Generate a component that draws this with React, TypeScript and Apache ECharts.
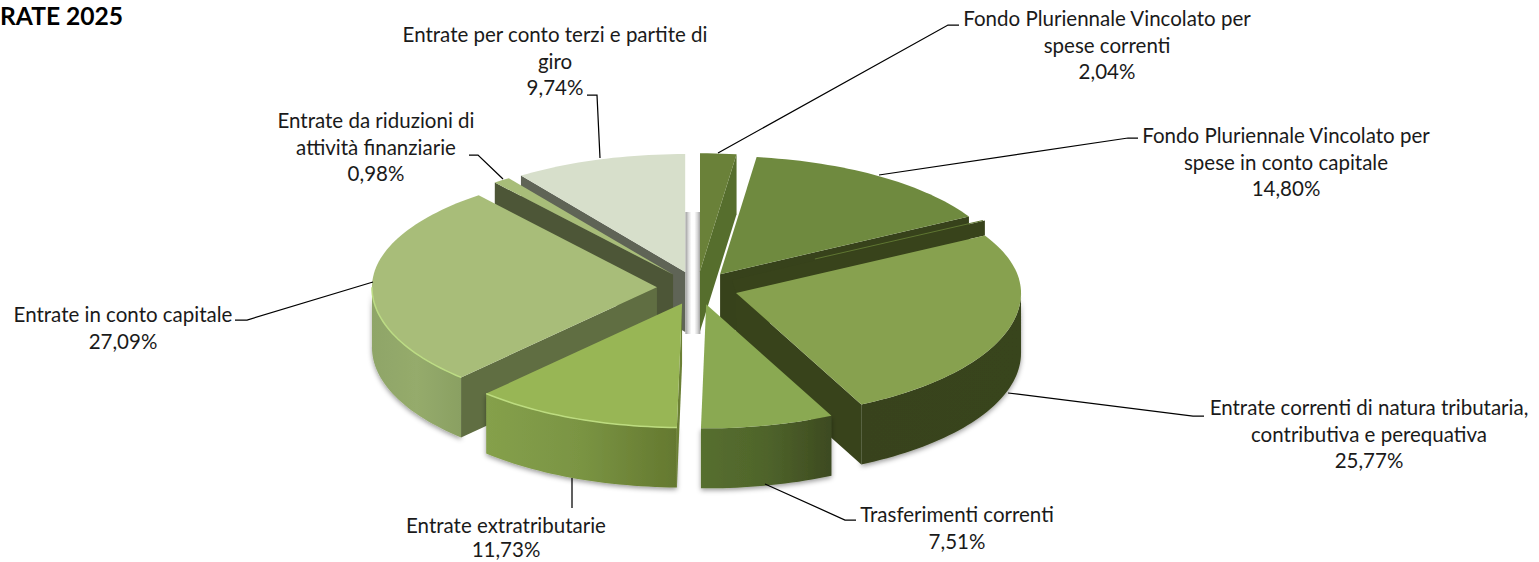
import React, { useEffect, useRef } from "react";
import * as echarts from "echarts";

const TITLE = "RATE 2025";
const CATEGORIES = [
  "Fondo Pluriennale Vincolato per\nspese correnti",
  "Fondo Pluriennale Vincolato per\nspese in conto capitale",
  "Entrate correnti di natura tributaria,\ncontributiva e perequativa",
  "Trasferimenti correnti",
  "Entrate extratributarie",
  "Entrate in conto capitale",
  "Entrate da riduzioni di\nattività finanziarie",
  "Entrate per conto terzi e partite di\ngiro",
];
const VALUES = [2.04, 14.8, 25.77, 7.51, 11.73, 27.09, 0.98, 9.74];

// Painter's order, back to front
const DRAW_ORDER = [7, 0, 1, 6, 5, 2, 4, 3];

// Projection of the pie: the front half is a little larger than the back half
const GEO = { cx: 697.4, cy: 288, rx: 285, ry: 118, ryFront: 124, explode: 0.142, depth: 60 };
const TOTAL = VALUES.reduce((a, b) => a + b, 0);
const RAD = Math.PI / 180;

const grad = (stops: string[]) =>
  new echarts.graphic.LinearGradient(
    0, 0, 1, 0,
    stops.map((color, i) => ({ offset: i / (stops.length - 1), color }))
  );

const STYLES: any[] = [
  { top: "#6a8139", face: "#566e2d" },
  { top: "#6f8a3f", face: "#37421b" },
  { top: "#87a14f", face: "#38431b", rim: ["#39441b", "#38431b"], lip: 15 },
  { top: "#8aa952", rim: ["#566f2f", "#4f642b", "#3d4a20"] },
  { top: "#98b655", face: "#6b8035", rim: ["#85a04b", "#7a9443", "#64782f"], edge: "#bddc80" },
  { top: "#a8bd79", face: "#606e42", rim: ["#8fa568", "#95ab6c", "#8aa062"], edge: "#bcdc84" },
  { top: "#a8bd79", face: "#4d5637" },
  { top: "#d7dfcb", face: "#5f6456" },
];

const LINE_GAP = 26.6;
const LABELS: any[] = [
  { x: 1107, y: 18, line: [[718, 153], [948, 25], [959, 25]] },
  { x: 1286, y: 135, line: [[879, 175], [1128, 138], [1138, 138]] },
  { x: 1369, y: 407, line: [[1008, 393], [1193, 416], [1204, 416]] },
  { x: 957, y: 514, line: [[765, 484], [845, 520], [856, 520]] },
  { x: 506, y: 525, gap: 24, line: [[572, 478], [572, 508]] },
  { x: 123, y: 314, line: [[373, 282], [247, 320], [235, 320]] },
  { x: 376, y: 120, line: [[503, 179], [478, 155], [469, 155]] },
  { x: 555, y: 34, line: [[600, 158], [597, 95], [587, 95]] },
];

const FONT = "Lato, Carlito, Calibri, sans-serif";

function sliceAngles(i: number) {
  let acc = 0;
  for (let k = 0; k < i; k++) acc += VALUES[k];
  return [(acc / TOTAL) * 360, ((acc + VALUES[i]) / TOTAL) * 360];
}

function renderSlice(params: any, api: any) {
  const i = DRAW_ORDER[params.dataIndex];
  const [start, end] = sliceAngles(i);
  const mid = ((start + end) / 2) * RAD;
  const { cx, cy, rx, ry, ryFront, explode, depth } = GEO;
  const ax = cx + rx * explode * Math.sin(mid);
  const ay = cy - ry * explode * Math.cos(mid);
  const rim = (deg: number, drop = 0): number[] => {
    const c = Math.cos(deg * RAD);
    return [ax + rx * Math.sin(deg * RAD), ay - (c >= 0 ? ry : ryFront) * c + drop];
  };
  const arc = (a: number, b: number, drop = 0) => {
    const n = Math.max(2, Math.ceil(Math.abs(b - a) / 1.5));
    const pts: number[][] = [];
    for (let k = 0; k <= n; k++) pts.push(rim(a + ((b - a) * k) / n, drop));
    return pts;
  };
  const s = STYLES[i];
  const children: any[] = [];
  const poly = (points: number[][], fill: any, extra: any = {}) =>
    children.push({ type: "polygon", shape: { points }, style: { fill, ...extra } });

  if (params.dataIndex === 0) {
    // shaded gap at the centre of the pie
    children.push({
      type: "rect",
      shape: { x: cx - 12, y: ay - 60, width: 15, height: 122 },
      style: { fill: grad(["#9c9c9c", "#d8d8d8", "#ffffff", "#ffffff", "#d8d8d8", "#9c9c9c"]) },
    });
  }

  const shadow = { shadowBlur: 5, shadowColor: "rgba(0,0,0,0.4)", shadowOffsetY: 2 };
  // outer wall: only the front half of the rim faces the viewer
  const a0 = Math.max(start, 90);
  const a1 = Math.min(end, 270);
  if (a1 > a0 && s.rim) {
    poly([...arc(a0, a1), ...arc(a1, a0, depth)], grad(a1 <= 180 ? [...s.rim].reverse() : s.rim), shadow);
  }
  // radial cut faces
  if (Math.sin(start * RAD) < 0 && s.face) {
    poly([[ax, ay], rim(start), rim(start, depth), [ax, ay + depth]], s.face);
  }
  if (Math.sin(end * RAD) > 0 && s.face) {
    poly([[ax, ay], rim(end), rim(end, depth), [ax, ay + depth]], s.face);
  }
  // raised back lip of the large slice
  if (s.lip) {
    const p = rim(start);
    poly([[ax, ay], p, [p[0], p[1] - s.lip], [ax - 4, ay - s.lip + 2]], s.face);
    children.push({
      type: "line",
      shape: { x1: p[0] - 2, y1: p[1] - s.lip, x2: p[0] - 170, y2: p[1] - s.lip + 38.5 },
      style: { stroke: "#5f7632", lineWidth: 1 },
    });
  }
  // top face
  poly([[ax, ay], ...arc(start, end)], s.top);
  if (s.edge) {
    children.push({
      type: "polyline",
      shape: { points: arc(a0, a1) },
      style: { stroke: s.edge, lineWidth: 1.5, fill: "none" },
    });
  }
  return { type: "group", children };
}

function renderLabel(params: any, api: any) {
  const i = params.dataIndex;
  const l = LABELS[i];
  const pct = api.value(0).toFixed(2).replace(".", ",") + "%";
  const lines = [...CATEGORIES[i].split("\n"), pct];
  return {
    type: "group",
    children: [
      {
        type: "polyline",
        shape: { points: l.line },
        style: { stroke: "#000000", lineWidth: 1.25, fill: "none" },
      },
      ...lines.map((text, k) => ({
        type: "text",
        style: {
          x: l.x,
          y: l.y + k * (l.gap || LINE_GAP),
          text,
          align: "center",
          verticalAlign: "middle",
          fontFamily: FONT,
          fontSize: 20.5,
          fill: "#1a1a1a",
        },
      })),
    ],
  };
}

export default function App() {
  const ref = useRef<HTMLDivElement>(null);
  useEffect(() => {
    document.body.style.margin = "0";
    const chart = echarts.init(ref.current!, null, { renderer: "svg" });
    chart.setOption({
      animation: false,
      backgroundColor: "#ffffff",
      title: {
        text: TITLE,
        left: 0,
        top: 3,
        padding: 0,
        textStyle: { fontFamily: FONT, fontSize: 24.6, fontWeight: "bold", color: "#000000" },
      },
      series: [
        {
          type: "custom",
          coordinateSystem: "none",
          silent: true,
          renderItem: renderSlice,
          data: DRAW_ORDER.map((i) => ({ name: CATEGORIES[i], value: VALUES[i] })),
          z: 2,
        },
        {
          type: "custom",
          coordinateSystem: "none",
          silent: true,
          renderItem: renderLabel,
          data: VALUES.map((v, i) => ({ name: CATEGORIES[i], value: v })),
          z: 3,
        },
      ],
    });
    return () => chart.dispose();
  }, []);
  return <div ref={ref} style={{ width: 1539, height: 562 }} />;
}
